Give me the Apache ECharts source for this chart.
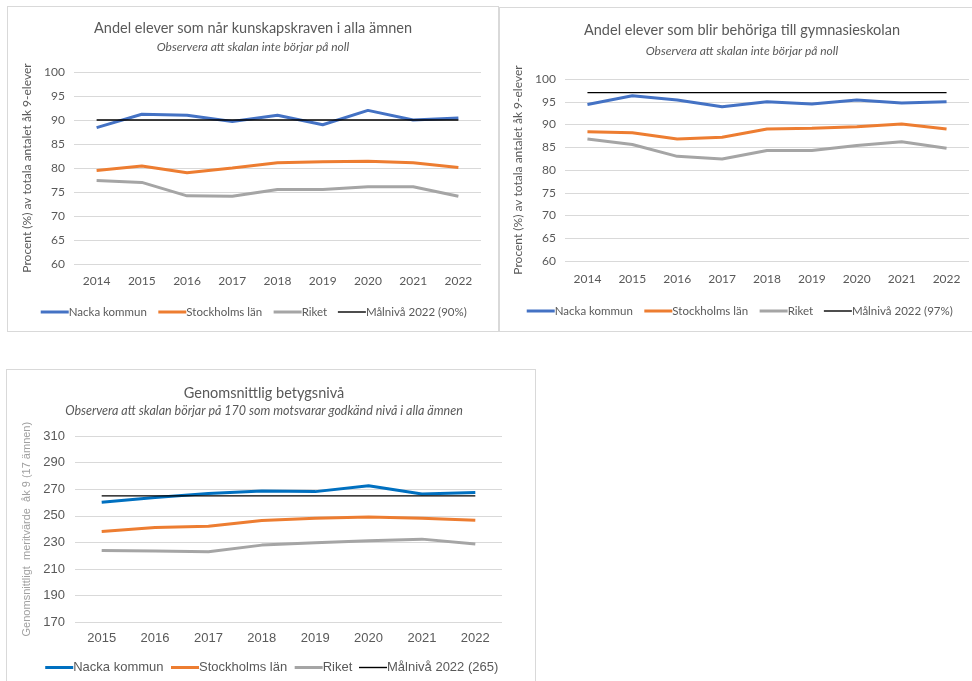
<!DOCTYPE html>
<html>
<head>
<meta charset="utf-8">
<script src="https://cdn.jsdelivr.net/npm/echarts@6/dist/echarts.min.js"></script>
<style>
  html, body { margin: 0; padding: 0; width: 972px; height: 681px; overflow: hidden; background: #fff; }
  .box { position: absolute; box-sizing: border-box; border: 1px solid #d9d9d9; background: #fff; }
</style>
</head>
<body>
<div id="c1" class="box" style="left:7px;top:6px;width:492px;height:326px;"></div>
<div id="c2" class="box" style="left:499px;top:7px;width:480px;height:325px;"></div>
<div id="c3" class="box" style="left:6px;top:369px;width:530px;height:320px;"></div>
<script>
// ---------- Data ----------
const years1 = ['2014','2015','2016','2017','2018','2019','2020','2021','2022'];
const nacka1 = [88.4, 91.2, 91.0, 89.7, 91.0, 89.0, 92.0, 90.0, 90.4];
const sthlm1 = [79.5, 80.4, 79.0, 80.0, 81.1, 81.3, 81.4, 81.1, 80.1];
const riket1 = [77.4, 77.0, 74.2, 74.1, 75.5, 75.5, 76.1, 76.1, 74.1];
const target1 = [90, 90, 90, 90, 90, 90, 90, 90, 90];

const years2 = ['2014','2015','2016','2017','2018','2019','2020','2021','2022'];
const nacka2 = [94.4, 96.3, 95.4, 93.9, 95.0, 94.5, 95.4, 94.7, 95.0];
const sthlm2 = [88.4, 88.2, 86.8, 87.2, 89.0, 89.2, 89.5, 90.1, 89.0];
const riket2 = [86.8, 85.6, 83.0, 82.4, 84.3, 84.3, 85.4, 86.2, 84.8];
const target2 = [97, 97, 97, 97, 97, 97, 97, 97, 97];

const years3 = ['2015','2016','2017','2018','2019','2020','2021','2022'];
const nacka3 = [260.2, 263.7, 266.7, 268.7, 268.2, 272.6, 266.4, 267.6];
const sthlm3 = [238.2, 241.2, 242.2, 246.5, 248.2, 249.2, 248.2, 246.7];
const riket3 = [224.0, 223.5, 223.0, 228.0, 229.8, 231.2, 232.5, 228.8];
const target3 = [265, 265, 265, 265, 265, 265, 265, 265];

const seriesNames1 = ['Nacka kommun', 'Stockholms län', 'Riket', 'Målnivå 2022 (90%)'];
const seriesNames2 = ['Nacka kommun', 'Stockholms län', 'Riket', 'Målnivå 2022 (97%)'];
const seriesNames3 = ['Nacka kommun', 'Stockholms län', 'Riket', 'Målnivå 2022 (265)'];

const title1 = 'Andel elever som når kunskapskraven i alla ämnen';
const sub1 = 'Observera att skalan inte börjar på noll';
const title2 = 'Andel elever som blir behöriga till gymnasieskolan';
const sub2 = 'Observera att skalan inte börjar på noll';
const title3 = 'Genomsnittlig betygsnivå';
const sub3 = 'Observera att skalan börjar på 170 som motsvarar godkänd nivå i alla ämnen';
const yName12 = 'Procent (%) av totala antalet åk 9-elever';
const yName3 = 'Genomsnittligt  meritvärde  åk 9 (17 ämnen)';

// ---------- Builder ----------
function build(dom, c) {
  const chart = echarts.init(document.getElementById(dom), null, { renderer: 'canvas' });
  const colors = [c.blue, '#ED7D31', '#A5A5A5', '#000000'];
  const widths = [3, 3, 3, 1.4];
  const datas = [c.nacka, c.sthlm, c.riket, c.target];
  chart.setOption({
    animation: false,
    textStyle: { fontFamily: c.font },
    graphic: [
      { type: 'text', x: c.tx, y: c.ty, style: { text: c.title, fill: '#595959', font: c.titleFont, textAlign: 'center', textVerticalAlign: 'middle' } },
      { type: 'text', x: c.tx, y: c.sy, style: { text: c.sub, fill: '#595959', font: c.subFont, textAlign: 'center', textVerticalAlign: 'middle' } }
    ],
    legend: {
      data: c.names.map((n, i) => ({ name: n, lineStyle: { width: widths[i], color: colors[i] } })),
      left: c.legLeft, top: c.legTop,
      itemWidth: 28, itemHeight: 10, itemGap: c.legGap,
      itemStyle: { opacity: 0 },
      textStyle: { color: '#595959', fontSize: c.legSize, fontFamily: c.font, padding: [0, 0, 0, -5] }
    },
    grid: { left: c.gl, right: c.gr, top: c.gt, bottom: c.gb, containLabel: false },
    xAxis: {
      type: 'category', data: c.years, boundaryGap: true,
      axisLine: { show: false }, axisTick: { show: false },
      axisLabel: { color: '#595959', fontSize: c.axSize, margin: c.xMargin, fontFamily: c.axFont }
    },
    yAxis: {
      type: 'value', min: c.min, max: c.max, interval: c.interval,
      name: c.yName, nameLocation: 'middle', nameGap: c.nameGap,
      nameTextStyle: { color: c.yNameColor, fontSize: c.yNameSize, fontFamily: c.axFont },
      axisLine: { show: false }, axisTick: { show: false },
      axisLabel: { color: '#595959', fontSize: c.axSize, margin: c.yMargin, fontFamily: c.axFont },
      splitLine: { lineStyle: { color: '#d9d9d9', width: 1 } }
    },
    series: datas.map((d, i) => ({
      name: c.names[i], type: 'line', data: d,
      symbol: 'none', showSymbol: false, smooth: false,
      itemStyle: { color: colors[i] },
      lineStyle: { color: colors[i], width: widths[i] },
      z: i === 3 ? 6 : 5 - i
    }))
  });
}

build('c1', {
  font: 'Lato', axFont: 'Lato', blue: '#4472C4',
  title: title1, sub: sub1, tx: 245, ty: 21, sy: 40,
  titleFont: '14.5px Lato', subFont: 'italic 12px Lato',
  names: seriesNames1, legLeft: 'center', legTop: 294, legSize: 11.5, legGap: 10,
  gl: 66, gr: 17, gt: 65, gb: 67,
  years: years1, nacka: nacka1, sthlm: sthlm1, riket: riket1, target: target1,
  min: 60, max: 100, interval: 5, axSize: 12, xMargin: 11, yMargin: 9,
  yName: yName12, nameGap: 36, yNameColor: '#595959', yNameSize: 12
});

build('c2', {
  font: 'Lato', axFont: 'Lato', blue: '#4472C4',
  title: title2, sub: sub2, tx: 242, ty: 22, sy: 43,
  titleFont: '14.5px Lato', subFont: 'italic 12px Lato',
  names: seriesNames2, legLeft: 'center', legTop: 292, legSize: 11.5, legGap: 10,
  gl: 65, gr: 9, gt: 71, gb: 70,
  years: years2, nacka: nacka2, sthlm: sthlm2, riket: riket2, target: target2,
  min: 60, max: 100, interval: 5, axSize: 12, xMargin: 12, yMargin: 9,
  yName: yName12, nameGap: 36, yNameColor: '#595959', yNameSize: 12
});

build('c3', {
  font: 'Liberation Sans', axFont: 'Liberation Sans', blue: '#0070C0',
  title: title3, sub: sub3, tx: 257, ty: 23, sy: 41,
  titleFont: '14.5px Lato', subFont: 'italic 12.5px Lato',
  names: seriesNames3, legLeft: 'center', legTop: 286, legSize: 13, legGap: 6,
  gl: 68, gr: 33, gt: 66, gb: 65.7,
  years: years3, nacka: nacka3, sthlm: sthlm3, riket: riket3, target: target3,
  min: 170, max: 310, interval: 20, axSize: 13, xMargin: 10, yMargin: 10,
  yName: yName3, nameGap: 39, yNameColor: '#a0a0a0', yNameSize: 11
});
</script>
</body>
</html>
